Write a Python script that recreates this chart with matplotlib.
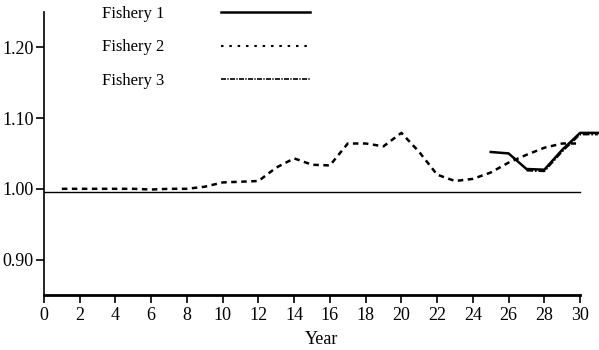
import numpy as np
import matplotlib
matplotlib.use("Agg")
import matplotlib.pyplot as plt
from matplotlib.lines import Line2D

plt.rcParams['font.family'] = ['Liberation Serif', 'DejaVu Serif']

# Relative values by year for each fishery
years_f1 = [25, 26, 27, 28, 29, 30, 31]
fishery1 = [1.052, 1.050, 1.028, 1.027, 1.055, 1.079, 1.079]

years_f2 = list(range(1, 31))
fishery2 = [1.000, 1.000, 1.000, 1.000, 1.000, 0.999, 1.000, 1.000, 1.003, 1.009,
            1.010, 1.011, 1.030, 1.043, 1.034, 1.033, 1.064, 1.064, 1.060, 1.079,
            1.052, 1.020, 1.011, 1.014, 1.023, 1.037, 1.048, 1.058, 1.064, 1.064]

years_f3 = [27, 28, 29, 30, 31]
fishery3 = [1.026, 1.025, 1.053, 1.077, 1.077]

ref_level = 0.995
xticks = list(range(0, 31, 2))
yticks = [0.90, 1.00, 1.10, 1.20]

fig = plt.figure(figsize=(5.99, 3.5), dpi=100)
ax = fig.add_axes([44 / 599, 55 / 350, 1 - 44 / 599, 1 - 55 / 350])

ax.plot(years_f1, fishery1, color='black', lw=1.8, clip_on=False)
ax.plot(years_f2, fishery2, color='black', lw=1.8, dashes=(2.2, 1.8), clip_on=False)
ax.plot(years_f3, fishery3, color='black', lw=1.6, dashes=(3, 0.8, 0.8, 0.8), clip_on=False)
ax.plot([0, 30], [ref_level, ref_level], color='black', lw=1.0)

ax.set_xlim(0, 31.06)
ax.set_ylim(0.85, 1.2667)
ax.set_xticks(xticks)
ax.set_xticklabels([str(t) for t in xticks])
ax.set_yticks(yticks)
ax.set_yticklabels([f"{t:.2f}" for t in yticks])

for side in ['top', 'right']:
    ax.spines[side].set_visible(False)
ax.spines['bottom'].set_bounds(0, 30)
ax.spines['bottom'].set_linewidth(2)
ax.spines['left'].set_bounds(0.85, 1.25)
ax.spines['left'].set_linewidth(1.2)
ax.tick_params(axis='both', direction='out', length=5.5, width=1.2, labelsize=13)
ax.tick_params(axis='y', pad=2)
ax.tick_params(axis='x', pad=3.5)
ax.set_xlabel("Year", fontsize=13, labelpad=5)

handles = [Line2D([], [], color='black', lw=1.8),
           Line2D([], [], color='black', lw=1.5, dashes=(1.2, 2.8)),
           Line2D([], [], color='black', lw=1.2, dashes=(3, 0.8, 0.8, 0.8))]
ax.legend(handles, ["Fishery 1", "Fishery 2", "Fishery 3"], loc='upper left',
          bbox_to_anchor=(0.078, 1.031), frameon=False, markerfirst=False,
          fontsize=12, handlelength=5.35, handletextpad=3.4, labelspacing=1.05)

fig.savefig("out.png", dpi=100)
